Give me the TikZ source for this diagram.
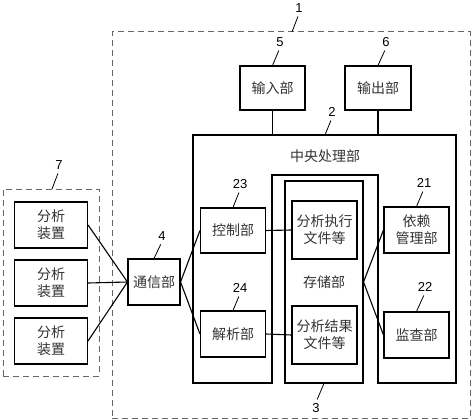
\documentclass[tikz,border=0pt]{standalone}
\usepackage{fontspec}
\setmainfont{Liberation Sans}
\newfontfamily\cjk{Noto Sans CJK SC}
\tikzset{
  box/.style={draw,line width=1.1pt,minimum width=65pt,minimum height=46pt,inner sep=0pt,align=center,font=\cjk\fontsize{14}{17}\selectfont,text=black!80},
  dashbox/.style={draw=black!60,line width=1pt,dash pattern=on 6pt off 4pt,inner sep=0pt},
  num/.style={inner sep=1pt,font=\fontsize{13}{13}\selectfont},
  lead/.style={line width=0.8pt,shorten >=3pt},
  link/.style={line width=1.1pt}
}
\begin{document}
\begin{tikzpicture}[x=1pt,y=-1pt]
	\useasboundingbox (0,0) rectangle (474,420);
	% dashed groups
	\node[dashbox,minimum width=358pt,minimum height=386pt] at (291,225) (sys) {};
	\node[dashbox,minimum width=96pt,minimum height=187pt] at (51,282.5) (grp) {};
	% central processing unit outline
	\draw[line width=1.1pt] (193,135) -- (456,135) -- (456,383) -- (378,383) -- (378,175)
		-- (272,175) -- (272,383) -- (193,383) -- cycle;
	\coordinate (cpuL) at (272.5,135);
	\coordinate (cpuR) at (378,135);
	\coordinate (cpuT) at (325,135);
	\node[font=\cjk\fontsize{14}{17}\selectfont,text=black!80] at (325,156) (cpu) {中央处理部};
	% boxes
	\node[box,minimum width=73pt] at (51,225) (a1) {分析\\装置};
	\node[box,minimum width=73pt] at (51,283) (a2) {分析\\装置};
	\node[box,minimum width=73pt] at (51,341) (a3) {分析\\装置};
	\node[box,minimum width=52pt] at (154,282) (comm) {通信部};
	\node[box,minimum height=45pt] at (233,230.5) (ctrl) {控制部};
	\node[box] at (233,334) (parse) {解析部};
	\node[box,minimum width=78pt,minimum height=202pt] at (324,282) (store) {存储部};
	\node[box,minimum height=58pt] at (324.5,230) (exec) {分析执行\\文件等};
	\node[box,minimum height=58pt] at (324.5,335) (res) {分析结果\\文件等};
	\node[box] at (416.5,230) (dep) {依赖\\管理部};
	\node[box] at (416.5,335) (mon) {监查部};
	\node[box,minimum height=44pt] at (272.5,88) (in) {输入部};
	\node[box,minimum width=66pt,minimum height=44pt] at (378,88) (out) {输出部};
	% connectors
	\draw[link] (a1.east) -- (comm.west);
	\draw[link] (a2.east) -- (comm.west);
	\draw[link] (a3.east) -- (comm.west);
	\draw[link] (comm.east) -- (ctrl.west);
	\draw[link] (comm.east) -- (parse.west);
	\draw[link] (ctrl.east) -- (exec.west);
	\draw[link] (parse.east) -- (res.west);
	\draw[link] (store.east) -- (dep.west);
	\draw[link] (store.east) -- (mon.west);
	\draw[link] (in) -- (cpuL);
	\draw[link] (out) -- (cpuR);
	% reference numbers
	\coordinate (sysT) at (292,32);
	\coordinate (grpT) at (52,189);
	\node[num] at (299,8) (n1) {1};
	\node[num] at (332,112) (n2) {2};
	\node[num] at (316,408) (n3) {3};
	\node[num] at (162,236) (n4) {4};
	\node[num] at (280,42) (n5) {5};
	\node[num] at (386,42) (n6) {6};
	\node[num] at (59,165) (n7) {7};
	\node[num] at (424,183) (n21) {21};
	\node[num] at (425,287) (n22) {22};
	\node[num] at (240,184) (n23) {23};
	\node[num] at (240,288) (n24) {24};
	\draw[lead] (sysT) -- (n1.south);
	\draw[lead] (cpuT) -- (n2.south);
	\draw[lead] (store.south) -- (n3.north);
	\draw[lead] (comm.north) -- (n4.south);
	\draw[lead] (in.north) -- (n5.south);
	\draw[lead] (out.north) -- (n6.south);
	\draw[lead] (grpT) -- (n7.south);
	\draw[lead] (dep.north) -- (n21.south);
	\draw[lead] (mon.north) -- (n22.south);
	\draw[lead] (ctrl.north) -- (n23.south);
	\draw[lead] (parse.north) -- (n24.south);
\end{tikzpicture}
\end{document}
